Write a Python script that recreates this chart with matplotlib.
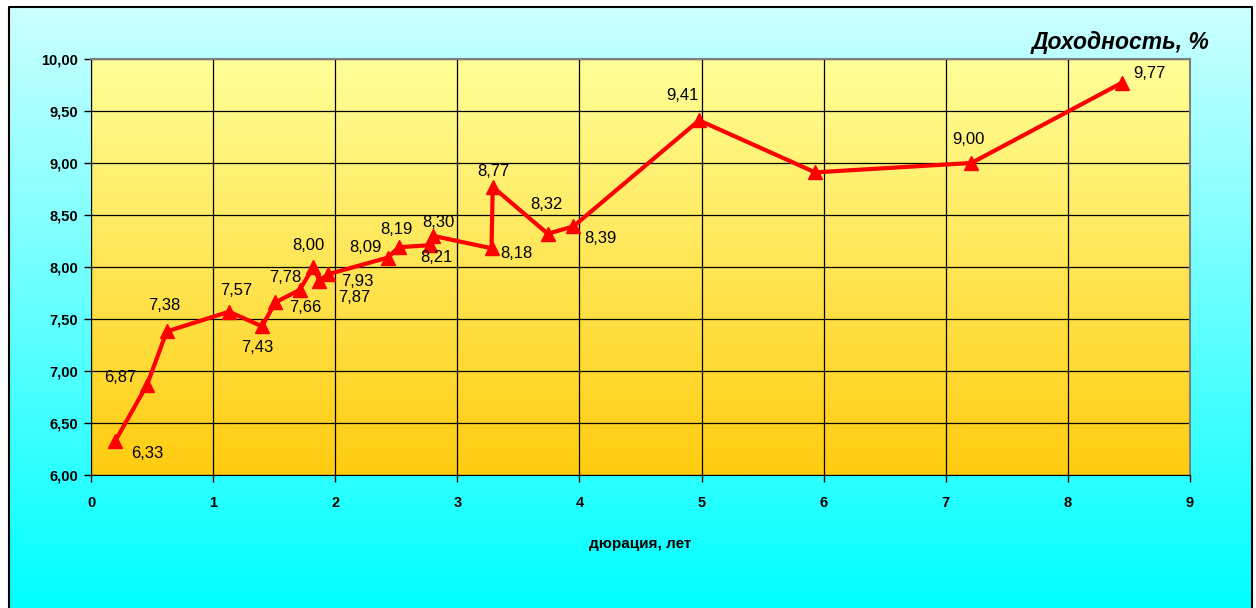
import matplotlib.pyplot as plt
import numpy as np
from matplotlib.colors import LinearSegmentedColormap

plt.rcParams['font.family'] = ['Liberation Sans', 'DejaVu Sans']

# данные: дюрация (лет) и доходность (%)
duration = [0.20, 0.46, 0.62, 1.13, 1.40, 1.51, 1.71, 1.82, 1.87, 1.94, 2.43,
            2.52, 2.78, 2.80, 3.28, 3.29, 3.74, 3.95, 4.98, 5.93, 7.21, 8.44]
yields = [6.33, 6.87, 7.38, 7.57, 7.43, 7.66, 7.78, 8.00, 7.87, 7.93, 8.09,
          8.19, 8.21, 8.30, 8.18, 8.77, 8.32, 8.39, 9.41, 8.91, 9.00, 9.77]
# подписи (None - без подписи)
labels = ['6,33', '6,87', '7,38', '7,57', '7,43', '7,66', '7,78', '8,00', '7,87', '7,93', '8,09',
          '8,19', '8,21', '8,30', '8,18', '8,77', '8,32', '8,39', '9,41', None, '9,00', '9,77']
# смещения подписей в пикселях
offsets = [(32, -13), (-27, 7), (-2, 26), (7, 21), (-5, -21), (30, -5), (-15, 12), (-5, 22),
           (35, -17), (29, -7), (-22, 10), (-2, 18), (6, -12), (5, 13), (25, -5), (1, 15),
           (-1, 29), (27, -12), (-17, 25), (0, 0), (-3, 23), (28, 9)]

W, H = 1256, 608
fig = plt.figure(figsize=(W / 100, H / 100), dpi=100, facecolor='white')

# фон с градиентом
bg = fig.add_axes([9 / W, 0, (1252 - 9) / W, 1 - 7 / H])
bg_cmap = LinearSegmentedColormap.from_list('bg', ['#00ffff', '#ccffff'])
bg.imshow(np.linspace(0, 1, 256).reshape(-1, 1), cmap=bg_cmap, aspect='auto',
          origin='lower', extent=[0, 1, 0, 1])
bg.set_xlim(0, 1)
bg.set_ylim(0, 1)
bg.axis('off')
bg.plot([0, 0, 1, 1], [0, 1, 1, 0], color='black', lw=1.5, clip_on=False)

ax = fig.add_axes([91 / W, 1 - 475 / H, (1190 - 91) / W, (475 - 59) / H])
ax.patch.set_alpha(0)
pa_cmap = LinearSegmentedColormap.from_list('pa', ['#ffcc10', '#ffff99'])
ax.imshow(np.linspace(0, 1, 256).reshape(-1, 1), cmap=pa_cmap, aspect='auto',
          origin='lower', extent=[0, 9, 6, 10], zorder=0)

ax.set_xlim(0, 9)
ax.set_ylim(6, 10)
ax.set_xticks(range(0, 10))
ax.set_yticks(np.arange(6, 10.01, 0.5))
ax.set_yticklabels([f'{v:.2f}'.replace('.', ',') for v in np.arange(6, 10.01, 0.5)])
ax.grid(True, color='black', lw=0.9, zorder=1)
ax.tick_params(direction='out', length=5, width=1, labelsize=10.5, pad=4)
for t in ax.get_xticklabels() + ax.get_yticklabels():
    t.set_fontweight('bold')
ax.xaxis.set_tick_params(pad=10)
for s in ['left', 'bottom']:
    ax.spines[s].set_color('black')
for s in ['top', 'right']:
    ax.spines[s].set_color('#808080')
    ax.spines[s].set_linewidth(1.5)

ax.plot(duration, yields, color='#ff0000', lw=3, marker='^', markersize=10,
        zorder=3, clip_on=False)

for x, y, lab, (dx, dy) in zip(duration, yields, labels, offsets):
    if lab is None:
        continue
    ax.annotate(lab, (x, y), xytext=(dx, dy), textcoords='offset pixels',
                ha='center', va='center', fontsize=12, color='black', zorder=4)

fig.text(640 / W, 1 - 544 / H, 'дюрация, лет', ha='center', va='center',
         fontsize=11, fontweight='bold')
fig.text(1210 / W, 1 - 43 / H, 'Доходность, %', ha='right', va='center',
         fontsize=16.5, fontweight='bold', style='italic')

fig.savefig('out.png', dpi=100, facecolor=fig.get_facecolor())
